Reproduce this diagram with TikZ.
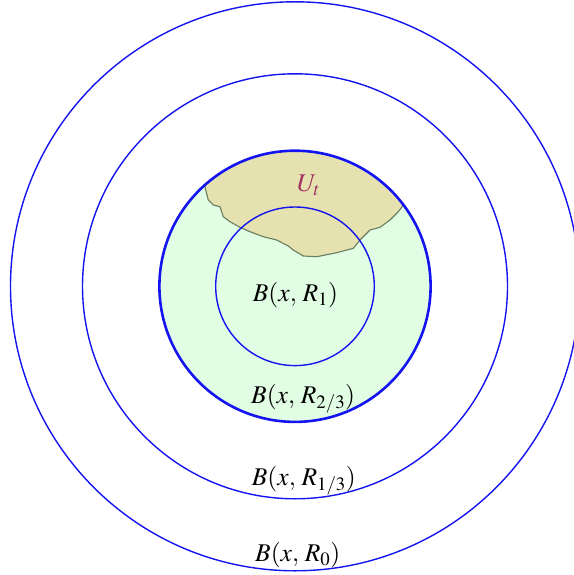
\documentclass[tikz,border=0pt]{standalone}
\usepackage{mathptmx}
\definecolor{ringblue}{RGB}{20,20,240}
\definecolor{diskgreen}{RGB}{225,253,228}
\definecolor{ufill}{RGB}{229,226,176}
\definecolor{uline}{RGB}{105,125,95}
\definecolor{ulabel}{RGB}{160,50,100}
\tikzset{
  ring/.style={draw=ringblue, line width=1.4pt},
  thickring/.style={draw=ringblue, line width=2.6pt},
  lbl/.style={anchor=base west, inner sep=0pt, font=\fontsize{25.5}{30}\selectfont},
}
\begin{document}
\begin{tikzpicture}[x=1pt,y=-1pt]
\useasboundingbox (0,0) rectangle (573,575);
\coordinate (c) at (295,286.3);
% green disk
\fill[diskgreen] (c) circle (135.6);
% U_t region
\begin{scope}
\clip (c) circle (135.6);
\fill[ufill] (205.7,190) -- (205.7,150) -- (403.3,150) -- (403.3,205)
  -- (398.3,211.7) -- (390,220) -- (380,227.3) -- (370,230) -- (360,240)
  -- (353.3,248.3) -- (336.7,252.7) -- (316.7,256.7) -- (303.3,256)
  -- (293.3,250) -- (288.3,246) -- (276.7,240) -- (263.3,236.7)
  -- (250,231.7) -- (240,227.3) -- (230,221.7) -- (223.3,216.7)
  -- (220,206.7) -- (213.3,205) -- (208.3,200) -- cycle;
\end{scope}
\draw[uline, line width=1.1pt, line join=round]
  (204.5,184) -- (205.7,190) -- (208.3,200) -- (213.3,205) -- (220,206.7)
  -- (223.3,216.7) -- (230,221.7) -- (240,227.3) -- (250,231.7)
  -- (263.3,236.7) -- (276.7,240) -- (288.3,246) -- (293.3,250)
  -- (303.3,256) -- (316.7,256.7) -- (336.7,252.7) -- (353.3,248.3)
  -- (360,240) -- (370,230) -- (380,227.3) -- (390,220) -- (398.3,211.7)
  -- (403.3,205);
% circles
\draw[ring] (c) circle (79.3);
\draw[thickring] (c) circle (135.6);
\draw[ring] (c) circle (212.5);
\draw[ring] (c) circle (284.5);
% labels
\node[lbl, text=ulabel] (ut) at (297,191.7) {$U_t$};
\node[lbl] (b1) at (252.7,301.7) {$B(x,\,R_1)$};
\node[lbl] (b23) at (251,403.3) {$B(x,\,R_{2/3})$};
\node[lbl] (b13) at (251.7,485.7) {$B(x,\,R_{1/3})$};
\node[lbl] (b0) at (255,561.7) {$B(x,\,R_0)$};
\end{tikzpicture}
\end{document}
